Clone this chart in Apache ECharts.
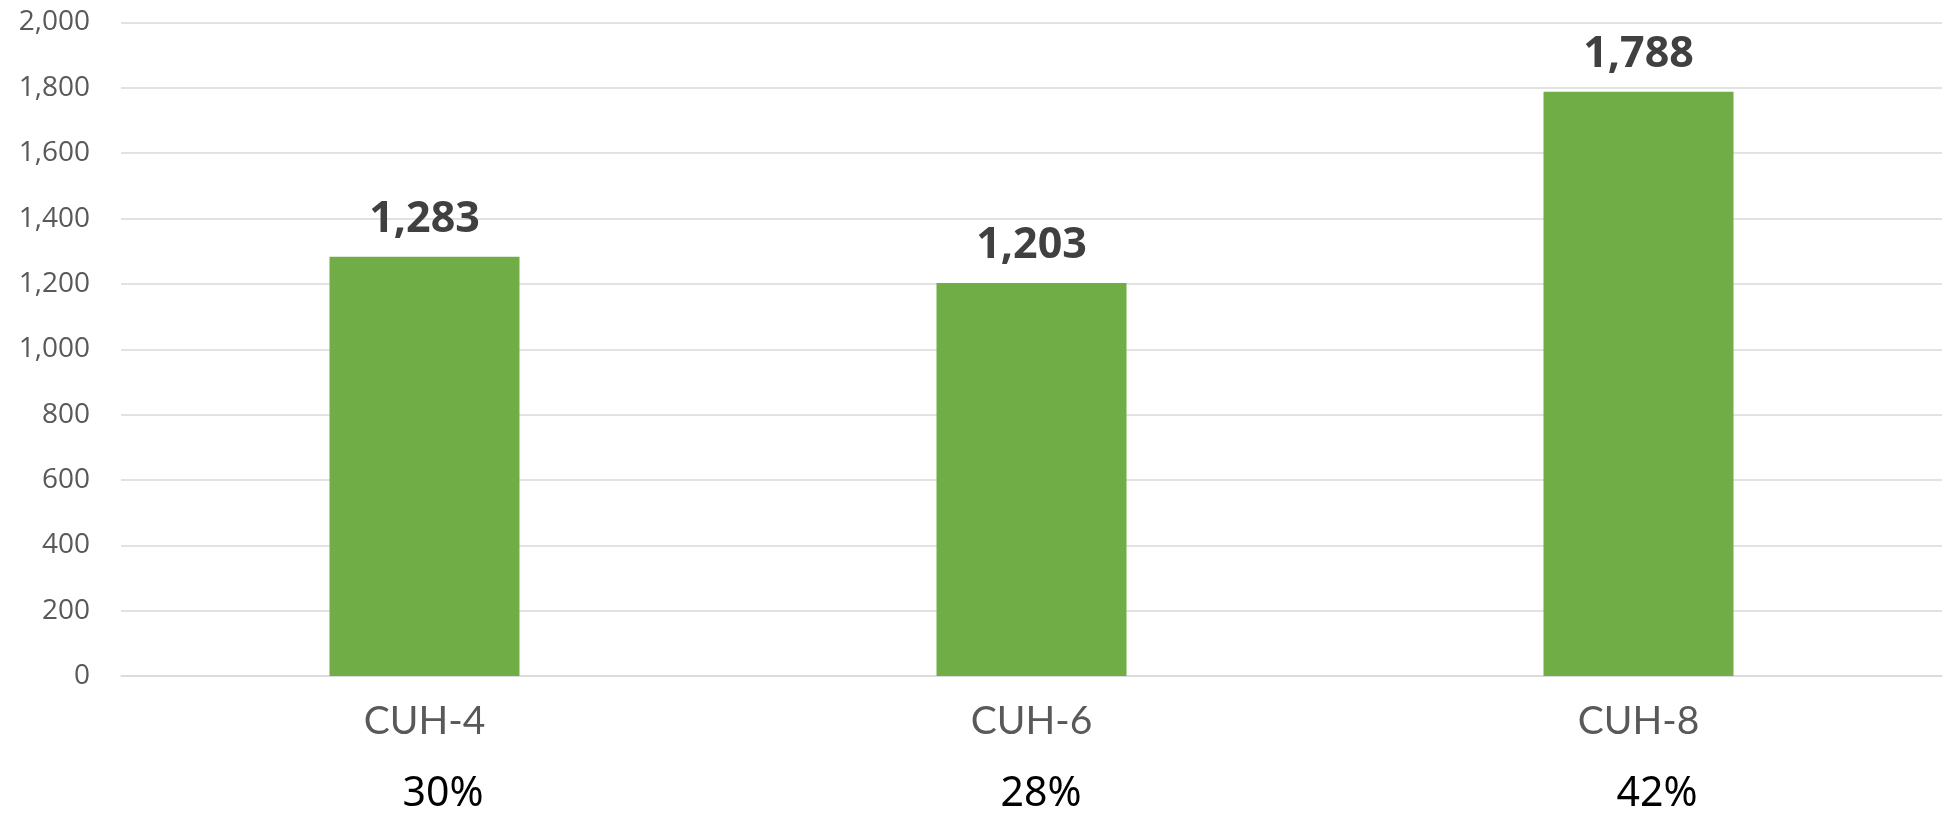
<!DOCTYPE html>
<html>
<head>
<meta charset="utf-8">
<script src="https://cdn.jsdelivr.net/npm/echarts@6/dist/echarts.min.js"></script>
<style>
html,body{margin:0;padding:0;background:#fff;}
#c{width:1949px;height:818px;}
</style>
</head>
<body>
<div id="c"></div>
<script>
var categories = ['CUH-4', 'CUH-6', 'CUH-8'];
var values = [1283, 1203, 1788];
var shares = ['30%', '28%', '42%'];
var yMin = 0, yMax = 2000, yStep = 200;

var chart = echarts.init(document.getElementById('c'), null, {renderer: 'canvas'});
var fmt = function (v) { return Number(v).toLocaleString('en-US'); };
chart.setOption({
  animation: false,
  backgroundColor: '#ffffff',
  grid: {left: 121, right: 7, top: 22.5, bottom: 142, containLabel: false},
  xAxis: [{
    type: 'category',
    data: categories,
    position: 'bottom',
    axisLine: {show: true, lineStyle: {color: '#d9d9d9', width: 1.5}},
    axisTick: {show: false},
    axisLabel: {color: '#595959', fontFamily: 'Lato', fontSize: 39, margin: 26}
  }, {
    type: 'category',
    data: shares,
    position: 'bottom',
    axisLine: {show: false},
    axisTick: {show: false},
    splitLine: {show: false},
    axisLabel: {
      color: '#000000', fontFamily: 'Noto Sans', fontSize: 41, margin: 98,
      formatter: function (v, i) { return '{p' + i + '|' + v + '}'; },
      rich: {
        p0: {color: '#000', fontFamily: 'Noto Sans', fontSize: 41, padding: [0, 0, 0, 37]},
        p1: {color: '#000', fontFamily: 'Noto Sans', fontSize: 41, padding: [0, 0, 0, 19]},
        p2: {color: '#000', fontFamily: 'Noto Sans', fontSize: 41, padding: [0, 0, 0, 37]}
      }
    }
  }],
  yAxis: {
    type: 'value',
    min: yMin, max: yMax, interval: yStep,
    axisLine: {show: false},
    axisTick: {show: false},
    splitLine: {lineStyle: {color: '#d9d9d9', width: 1.5}},
    axisLabel: {color: '#595959', fontFamily: 'Open Sans', fontSize: 28, margin: 31, formatter: fmt}
  },
  series: [{
    type: 'bar',
    data: values,
    xAxisIndex: 0,
    barWidth: 190,
    itemStyle: {color: '#70ad47'},
    label: {
      show: true, position: 'top', distance: 16,
      color: '#404040', fontFamily: 'Open Sans', fontWeight: 'bold', fontSize: 43,
      formatter: function (p) { return fmt(p.value); }
    }
  }]
});
</script>
</body>
</html>
